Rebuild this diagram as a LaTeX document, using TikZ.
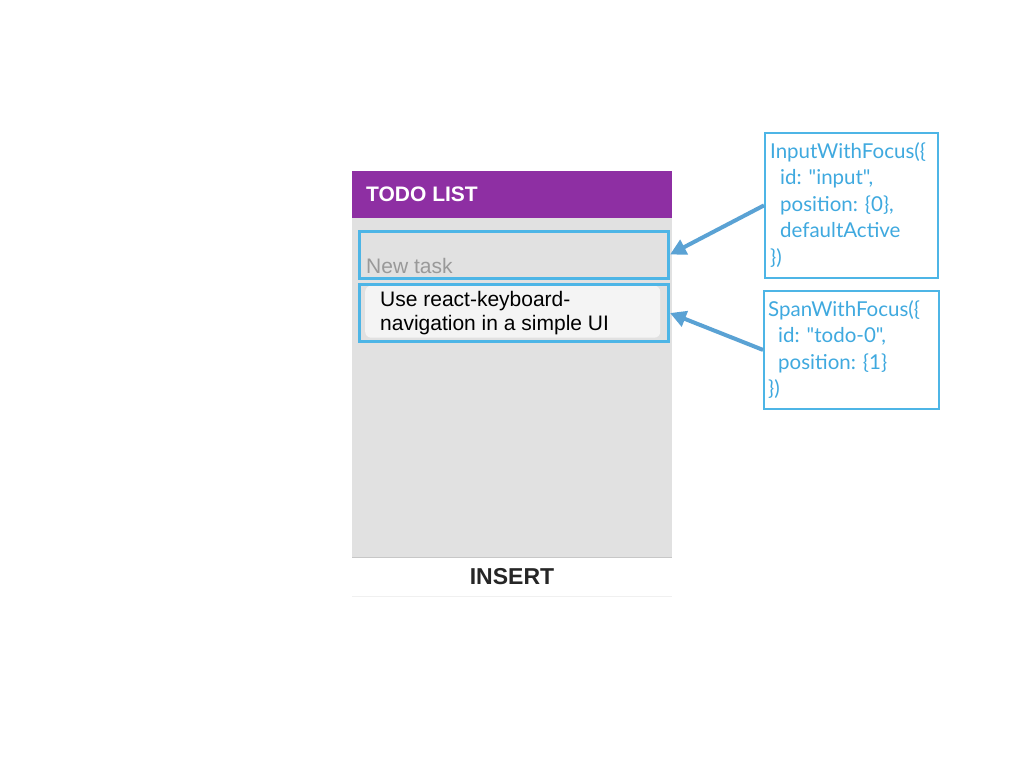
\documentclass[tikz,border=0pt]{standalone}
\usepackage{fontspec}
\setmainfont{Liberation Sans}
\newfontfamily\lato{Lato}
\usetikzlibrary{arrows.meta}
\definecolor{hdr}{HTML}{8E2FA3}
\definecolor{bodyg}{HTML}{E1E1E1}
\definecolor{hl}{HTML}{4DB5E6}
\definecolor{codec}{HTML}{3FA9DF}
\definecolor{arrc}{HTML}{5AA2D4}
\definecolor{cardc}{HTML}{F4F4F4}
\begin{document}
\begin{tikzpicture}[x=1pt,y=-1pt,
  hlbox/.style={draw=hl,line width=3pt,inner sep=0pt},
  codebox/.style={draw=hl,line width=1.8pt,inner sep=0pt},
  codetxt/.style={font=\lato\fontsize{20.5}{26.5}\selectfont,text=codec,align=left,anchor=north west,inner sep=0pt},
  arr/.style={draw=arrc,line width=4pt,-{Triangle[length=16pt,width=16pt]}}]
\useasboundingbox[fill=white] (0,0) rectangle (1024,768);
% app frame
\fill[bodyg] (352,218) rectangle (672,557);
\node[fill=hdr,minimum width=320pt,minimum height=47pt,inner sep=0pt,anchor=north west] (hdr) at (352,171) {};
\node[anchor=west,text=white,font=\bfseries\fontsize{21}{21}\selectfont,inner sep=0pt] (title) at (366,194) {TODO LIST};
\draw[line width=1.5pt,color=black!22] (352,557.5) -- (672,557.5);
\draw[line width=0.6pt,color=black!6] (352,596) -- (672,596);
\node[font=\bfseries\fontsize{23}{23}\selectfont,text=black!85,inner sep=0pt] (insert) at (512,577) {INSERT};
% input
\node[hlbox,minimum width=309pt,minimum height=47pt,anchor=north west] (inp) at (358,229.5) {};
\node[anchor=base west,text=black!40,font=\fontsize{21}{21}\selectfont,inner sep=0pt] (newtask) at (366,273) {New task};
% todo card
\node[fill=cardc,rounded corners=6pt,minimum width=295pt,minimum height=52pt,anchor=north west,inner sep=0pt] (card) at (365,285.5) {};
\node[hlbox,minimum width=309pt,minimum height=57pt,anchor=north west] (span) at (358,283) {};
\node[anchor=north west,align=left,font=\fontsize{21}{24}\selectfont,inner sep=0pt] (todo) at (380,291) {Use react-keyboard-\\\hspace*{0pt}navigation in a simple UI};
% code boxes
\node[codebox,minimum width=173pt,minimum height=145pt,anchor=north west] (b1) at (764,132) {};
\node[codetxt] (t1) at (770,142) {InputWithFocus(\{\\\hspace*{10pt}id: "input",\\\hspace*{10pt}position: \{0\},\\\hspace*{10pt}defaultActive\\\})};
\node[codebox,minimum width=175pt,minimum height=118pt,anchor=north west] (b2) at (763,290) {};
\node[codetxt] (t2) at (768,300) {SpanWithFocus(\{\\\hspace*{10pt}id: "todo-0",\\\hspace*{10pt}position: \{1\}\\\})};
% arrows
\draw[arr] (b1.west) -- (inp.east);
\draw[arr] (b2.west) -- (span.east);
\end{tikzpicture}
\end{document}
